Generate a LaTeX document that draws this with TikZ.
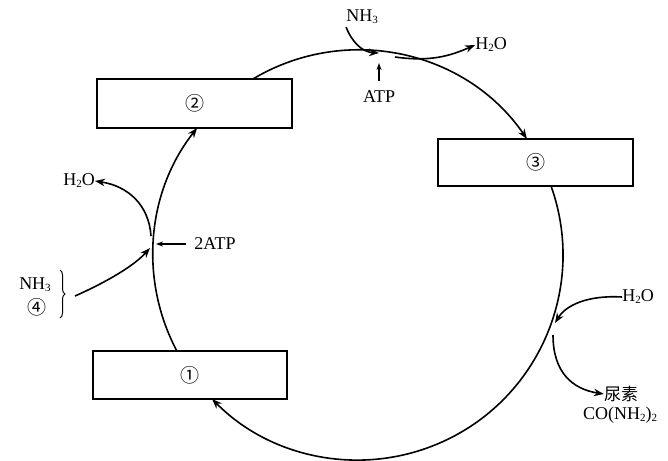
\documentclass[tikz,border=0pt]{standalone}
\usepackage{fontspec}
\setmainfont{Liberation Serif}
\newfontfamily\cjk{Noto Sans CJK SC}
\usetikzlibrary{arrows.meta,decorations.pathreplacing}
\newcommand{\sbs}[1]{\raisebox{-2pt}{\fontsize{11}{12}\selectfont #1}}
\begin{document}
\begin{tikzpicture}[x=1pt,y=-1pt,
  box/.style={draw,line width=1.1pt,fill=white,inner sep=0pt,font=\cjk\fontsize{19}{22}\selectfont},
  cyc/.style={line width=1.6pt,-{Stealth[length=10pt,width=7.5pt]}},
  arr/.style={line width=1.6pt,-{Stealth[length=10pt,width=7.5pt]}},
  thin arr/.style={line width=1.1pt,-{Stealth[length=7pt,width=5pt]}},
  lbl/.style={font=\fontsize{18}{21}\selectfont,inner sep=0pt},
  num/.style={font=\cjk\fontsize{19}{22}\selectfont,inner sep=0pt}]
\useasboundingbox (0,0) rectangle (668,460);
\coordinate (O) at (358,255);
% boxes
\node[box,minimum width=194pt,minimum height=48pt] (b1) at (190,375) {①};
\node[box,minimum width=195pt,minimum height=49pt] (b2) at (194.5,103.5) {②};
\node[box,minimum width=195pt,minimum height=47pt] (b3) at (535.5,162.5) {③};
% cycle arcs
\draw[cyc] ([shift={(152.1:205)}]O) arc[start angle=152.1,end angle=218.3,radius=205];
\draw[cyc] ([shift={(239.2:205)}]O) arc[start angle=239.2,end angle=325.5,radius=205];
\draw[cyc] ([shift={(340.3:205)}]O) arc[start angle=340.3,end angle=495.4,radius=205];
% labels
\node[lbl] (nh3t) at (362,17) {NH\sbs{3}};
\node[lbl] (h2ot) at (491,45) {H\sbs{2}O};
\node[lbl] (atpt) at (379,97) {ATP};
\node[lbl] (atp2) at (215,244) {2ATP};
\node[lbl] (h2ol) at (79,181) {H\sbs{2}O};
\node[lbl] (nh3l) at (35,285) {NH\sbs{3}};
\node[num] (n4) at (37,307) {④};
\node[lbl] (h2or) at (638,297) {H\sbs{2}O};
\node[lbl,font=\cjk\fontsize{17}{20}\selectfont] (urea) at (621,394) {尿素};
\node[lbl] (co) at (620,415) {CO(NH\sbs{2})\sbs{2}};
% connection points on the cycle
\coordinate (pt1) at (379,53);
\coordinate (pt2) at (395,57);
\coordinate (pl1) at (151,236);
\coordinate (pl2) at (150,248);
\coordinate (pr1) at (555,323);
\coordinate (pr2) at (553,335);
\coordinate (atpfrom) at (379,81);
\coordinate (atpto) at (379,63);
\coordinate (atp2from) at (186,244);
\coordinate (atp2to) at (156,244);
% side arrows
\draw[arr] (nh3t.south west) ++(0,3) .. controls (352,42) and (362,52) .. (pt1);
\draw[arr] (pt2) .. controls (430,62) and (450,56) .. (h2ot.west);
\draw[thin arr] (atpfrom) -- (atpto);
\draw[arr] (pl1) .. controls (149,205) and (128,186) .. (h2ol.east);
\draw[arr] (75,296) .. controls (100,285) and (132,268) .. (pl2);
\draw[thin arr] (atp2from) -- (atp2to);
\draw[arr] (h2or.west) .. controls (588,295) and (566,305) .. (pr1);
\draw[arr] (pr2) .. controls (553,372) and (572,389) .. (urea.west);
% brace
\draw[line width=1pt,decorate,decoration={brace,amplitude=5pt}] (60,270) -- (60,318);
\end{tikzpicture}
\end{document}
